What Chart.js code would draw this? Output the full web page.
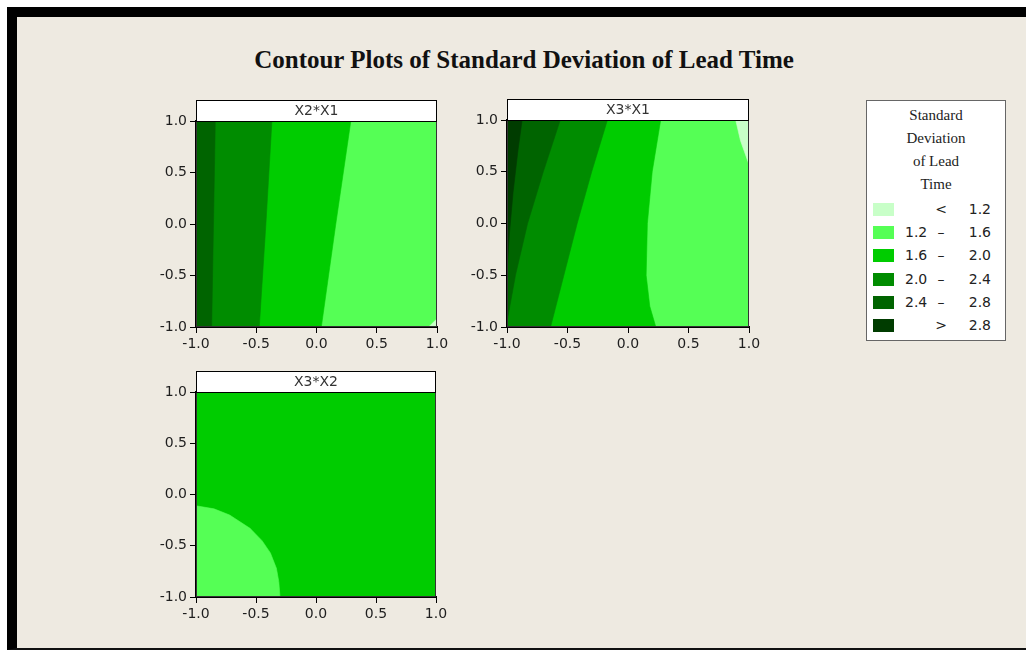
<!DOCTYPE html>
<html>
<head>
<meta charset="utf-8">
<script src="https://cdn.jsdelivr.net/npm/chart.js@4.4.1/dist/chart.umd.min.js"></script>
<style>
  html, body { margin:0; padding:0; background:#ffffff; width:1026px; height:656px; overflow:hidden; }
  #frame { position:absolute; left:7px; top:7px; width:1009px; height:631px; background:#EEEAE1;
           border-left:10px solid #000; border-top:10px solid #000; border-bottom:2px solid #111; }
  #title { position:absolute; left:0; width:1048px; top:46px; text-align:center;
           font-family:"Liberation Serif", serif; font-weight:bold; font-size:25px; color:#111; }
  .pc { position:absolute; }
  #legend { position:absolute; left:866px; top:100px; width:140px; height:241px; background:#fff;
            border:1px solid #666; box-sizing:border-box; }
  .lt { position:absolute; left:0; width:138px; text-align:center; font-family:"Liberation Serif", serif;
        font-size:15px; color:#222; line-height:18px; }
  .sw { position:absolute; left:6px; width:21px; height:13px; }
  .lv { position:absolute; font-family:"DejaVu Sans", sans-serif; font-size:14px; color:#222; line-height:16px; }
</style>
</head>
<body>
<div id="frame"></div>
<div id="title">Contour Plots of Standard Deviation of Lead Time</div>
<canvas id="p1" class="pc"></canvas>
<canvas id="p2" class="pc"></canvas>
<canvas id="p3" class="pc"></canvas>
<div id="legend"></div>
<script>
// ---------------- data ----------------
const TICKS = [-1, -0.5, 0, 0.5, 1];
const TICK_LABELS = ['-1.0', '-0.5', '0.0', '0.5', '1.0'];
const PANEL_TITLES = ['X2*X1', 'X3*X1', 'X3*X2'];

const LEGEND_TITLE = ['Standard', 'Deviation', 'of Lead', 'Time'];
const LEVEL_LOW  = ['',  '1.2', '1.6', '2.0', '2.4', ''];
const LEVEL_SEP  = ['<', '–',   '–',   '–',   '–',   '>'];
const LEVEL_HIGH = ['1.2', '1.6', '2.0', '2.4', '2.8', '2.8'];
const LEVEL_COLORS = ['#C8FFC8', '#55FF55', '#00CC00', '#008C00', '#006400', '#003C00'];

// full square of the design region
const SQUARE = [[-1, -1], [1, -1], [1, 1], [-1, 1]];

// Panel 1 (X2*X1): contour boundaries, points (x, y) from top to bottom
const P1_BOUND_16 = [[0.285, 1], [0.16, 0], [0.04, -1]];
const P1_BOUND_20 = [[-0.37, 1], [-0.42, 0], [-0.475, -1]];
const P1_BOUND_24 = [[-0.84, 1], [-0.855, 0], [-0.87, -1]];
const P1_BOUND_12 = [[0.93, -1], [1, -0.92]];

// Panel 2 (X3*X1)
const P2_BOUND_28 = [[-0.875, 1], [-0.91, 0.7], [-0.95, 0.3], [-0.98, -0.1], [-1, -0.46]];
const P2_BOUND_24 = [[-0.56, 1], [-0.7, 0.5], [-0.83, 0], [-0.93, -0.5], [-1, -0.95]];
const P2_BOUND_20 = [[-0.17, 1], [-0.3, 0.5], [-0.42, 0], [-0.53, -0.5], [-0.64, -1]];
const P2_BOUND_16 = [[0.27, 1], [0.2, 0.5], [0.16, 0], [0.15, -0.5], [0.18, -0.8], [0.23, -1]];
const P2_BOUND_12 = [[0.89, 1], [0.93, 0.8], [1, 0.57]];

// Panel 3 (X3*X2)
const P3_BOUND_16 = [[-1, -0.11], [-0.85, -0.14], [-0.72, -0.2], [-0.55, -0.33], [-0.45, -0.45],
                     [-0.38, -0.57], [-0.33, -0.72], [-0.31, -0.85], [-0.30, -1]];

// ---------------- regions ----------------
const leftOf = b => b.concat([[-1, -1], [-1, 1]]);
const PANEL_REGIONS = [
  [ // panel 1, topmost first
    { pts: P1_BOUND_12.concat([[1, -1]]), level: 0 },
    { pts: leftOf(P1_BOUND_24), level: 4 },
    { pts: leftOf(P1_BOUND_20), level: 3 },
    { pts: leftOf(P1_BOUND_16), level: 2 },
    { pts: SQUARE, level: 1 }
  ],
  [
    { pts: P2_BOUND_12.concat([[1, 1]]), level: 0 },
    { pts: P2_BOUND_28.concat([[-1, 1]]), level: 5 },
    { pts: P2_BOUND_24.concat([[-1, 1]]), level: 4 },
    { pts: leftOf(P2_BOUND_20), level: 3 },
    { pts: leftOf(P2_BOUND_16), level: 2 },
    { pts: SQUARE, level: 1 }
  ],
  [
    { pts: P3_BOUND_16.concat([[-1, -1]]), level: 1 },
    { pts: SQUARE, level: 2 }
  ]
];

// ---------------- layout ----------------
const PANEL_BOXES = [
  { left: 196, top: 121, right: 437, bottom: 327 },
  { left: 507, top: 120, right: 749, bottom: 327 },
  { left: 196, top: 392, right: 436, bottom: 597 }
];
const Y_AXIS_W = 52, X_AXIS_H = 32, PAD_TOP = 26, PAD_RIGHT = 16, PAD_LEFT = 2, PAD_BOTTOM = 2;
const HEADER_H = 21;
const TICK_FONT = { family: 'DejaVu Sans', size: 14 };

const headerPlugin = {
  id: 'panelHeader',
  afterDraw(chart, args, opts) {
    const a = chart.chartArea, ctx = chart.ctx;
    ctx.save();
    ctx.strokeStyle = '#333';
    ctx.lineWidth = 1;
    ctx.strokeRect(a.left + 0.5, a.top + 0.5, a.right - a.left - 1, a.bottom - a.top - 1);
    ctx.fillStyle = '#ffffff';
    ctx.fillRect(a.left, a.top - HEADER_H, a.right - a.left, HEADER_H);
    ctx.strokeStyle = '#000';
    ctx.strokeRect(a.left + 0.5, a.top - HEADER_H + 0.5, a.right - a.left - 1, HEADER_H);
    ctx.fillStyle = '#333';
    ctx.font = '14px "DejaVu Sans"';
    ctx.textAlign = 'center';
    ctx.textBaseline = 'middle';
    ctx.fillText(opts.text, (a.left + a.right) / 2, a.top - HEADER_H / 2 + 1);
    ctx.restore();
  }
};

function axis(isX) {
  return {
    type: 'linear', min: -1, max: 1,
    afterBuildTicks: s => { s.ticks = TICKS.map(v => ({ value: v })); },
    ticks: {
      font: TICK_FONT, color: '#1e1e1e', padding: 3, autoSkip: false, maxRotation: 0,
      callback: v => TICK_LABELS[TICKS.indexOf(v)]
    },
    grid: { drawOnChartArea: false, drawTicks: true, tickLength: 6, color: '#000', lineWidth: 1 },
    border: { display: true, color: '#000', width: 2 },
    afterFit: s => {
      if (isX) { s.height = X_AXIS_H; s.paddingLeft = 0; s.paddingRight = 0; }
      else { s.width = Y_AXIS_W; s.paddingTop = 0; s.paddingBottom = 0; }
    }
  };
}

PANEL_BOXES.forEach((b, i) => {
  const cv = document.getElementById('p' + (i + 1));
  const w = (b.right - b.left) + Y_AXIS_W + PAD_LEFT + PAD_RIGHT;
  const h = (b.bottom - b.top) + X_AXIS_H + PAD_TOP + PAD_BOTTOM;
  cv.width = w; cv.height = h;
  cv.style.width = w + 'px'; cv.style.height = h + 'px';
  cv.style.left = (b.left - Y_AXIS_W - PAD_LEFT) + 'px';
  cv.style.top = (b.top - PAD_TOP) + 'px';
  new Chart(cv, {
    type: 'scatter',
    data: {
      datasets: PANEL_REGIONS[i].map(r => ({
        data: r.pts.map(p => ({ x: p[0], y: p[1] })),
        showLine: true,
        fill: 'shape',
        backgroundColor: LEVEL_COLORS[r.level],
        borderColor: LEVEL_COLORS[r.level],
        borderWidth: 0.6,
        pointRadius: 0,
        pointHoverRadius: 0,
        tension: 0
      }))
    },
    options: {
      responsive: false,
      animation: false,
      devicePixelRatio: 1,
      layout: { padding: { top: PAD_TOP, right: PAD_RIGHT, left: PAD_LEFT, bottom: PAD_BOTTOM } },
      plugins: {
        legend: { display: false },
        tooltip: { enabled: false },
        panelHeader: { text: PANEL_TITLES[i] }
      },
      scales: { x: axis(true), y: axis(false) }
    },
    plugins: [headerPlugin]
  });
});

// ---------------- legend ----------------
const lg = document.getElementById('legend');
LEGEND_TITLE.forEach((t, i) => {
  const d = document.createElement('div');
  d.className = 'lt'; d.textContent = t;
  d.style.top = (5 + i * 23) + 'px';
  lg.appendChild(d);
});
LEVEL_COLORS.forEach((c, i) => {
  const y = 102 + i * 23.2;
  const sw = document.createElement('div');
  sw.className = 'sw'; sw.style.top = y + 'px'; sw.style.background = c;
  lg.appendChild(sw);
  const lo = document.createElement('div');
  lo.className = 'lv'; lo.textContent = LEVEL_LOW[i]; lo.style.left = '38px'; lo.style.top = (y - 2) + 'px';
  lg.appendChild(lo);
  const sp = document.createElement('div');
  sp.className = 'lv'; sp.textContent = LEVEL_SEP[i]; sp.style.left = '64px'; sp.style.width = '20px';
  sp.style.textAlign = 'center'; sp.style.top = (y - 2) + 'px';
  lg.appendChild(sp);
  const hi = document.createElement('div');
  hi.className = 'lv'; hi.textContent = LEVEL_HIGH[i]; hi.style.right = '14px'; hi.style.top = (y - 2) + 'px';
  lg.appendChild(hi);
});
</script>
</body>
</html>
